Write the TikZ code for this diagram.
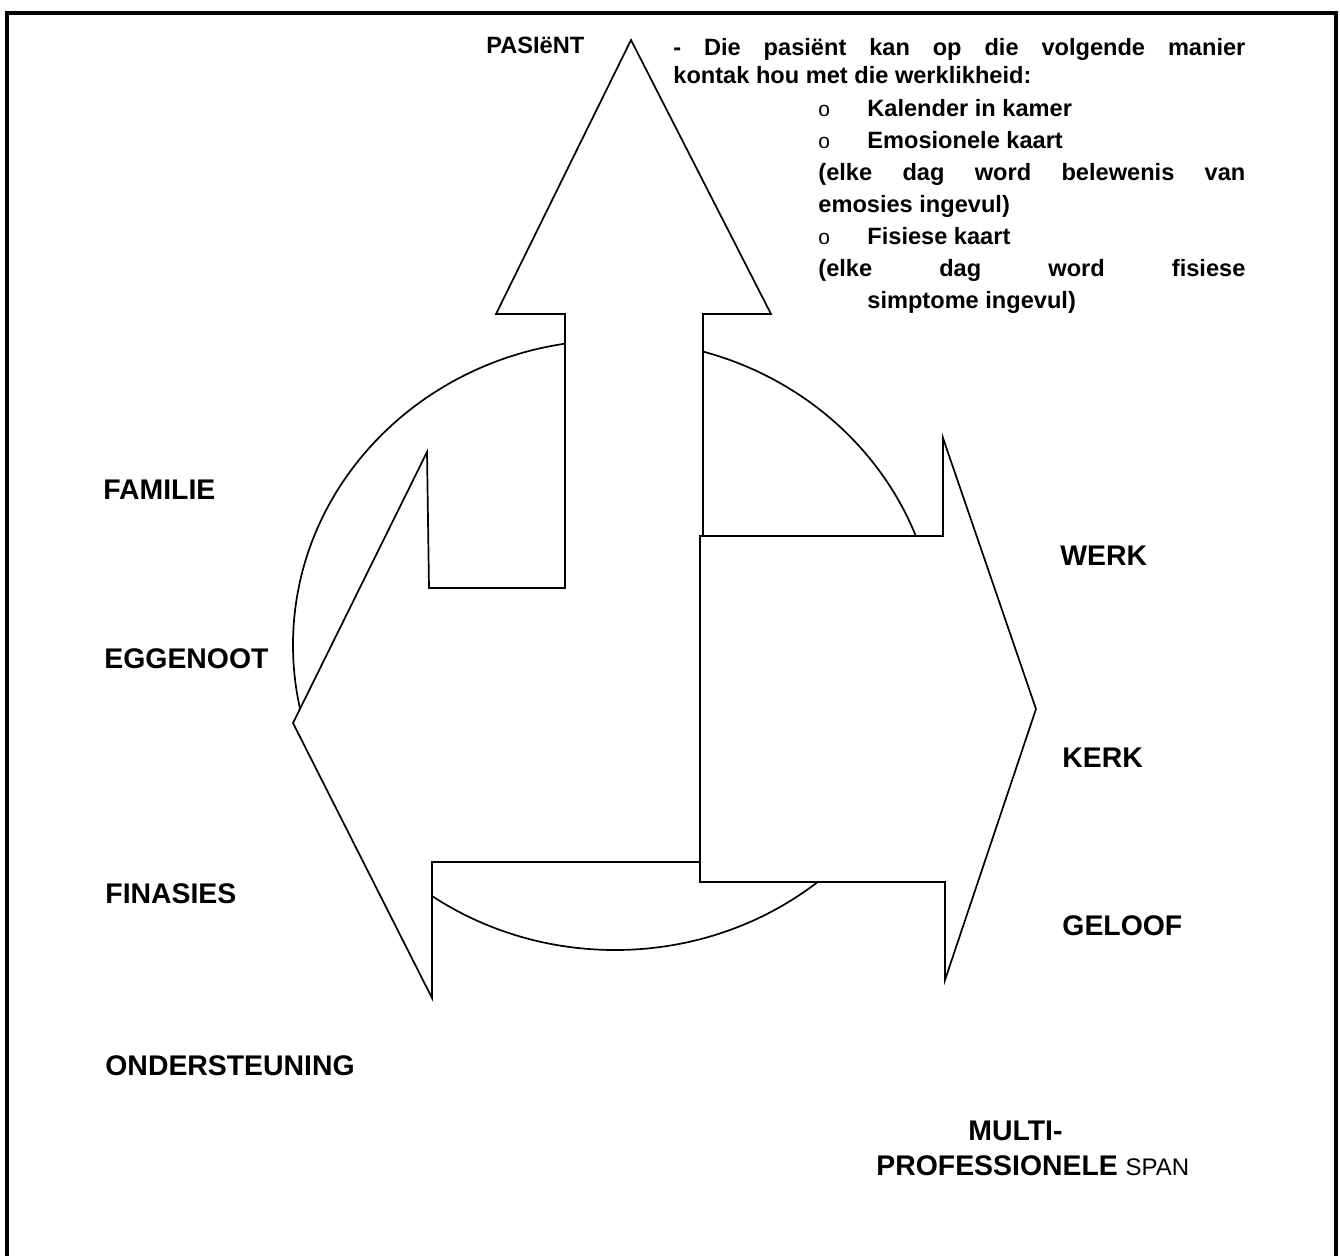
\documentclass[tikz,border=0pt]{standalone}
\usepackage{fontspec}
\setmainfont{Liberation Sans}
\begin{document}
\begin{tikzpicture}[x=0.5pt,y=-0.5pt,
  arrowshape/.style={draw=black, fill=white, line width=0.85pt, line join=miter},
  lab/.style={font=\bfseries\fontsize{14.2pt}{17pt}\selectfont, anchor=base west, inner sep=0pt},
  txt/.style={font=\bfseries\fontsize{11.8pt}{14pt}\selectfont, anchor=base west, inner sep=0pt},
  bul/.style={font=\fontsize{10.5pt}{13pt}\selectfont, anchor=base west, inner sep=0pt}]
\useasboundingbox (0,0) rectangle (1340,1255);
\fill[white] (0,0) rectangle (1340,1255);
% frame (open at the bottom)
\draw[line width=2.2pt] (7,1262) -- (7,13) -- (1336,13) -- (1336,1262);
% ellipse behind
\draw[line width=0.85pt] (615,645) ellipse [x radius=161pt, y radius=152.5pt];
% up-left arrow
\draw[arrowshape] (631,40) -- (771,314) -- (703,314) -- (703,862) -- (432,862)
  -- (432,998) -- (293,723) -- (427,452) -- (429,588) -- (565,588)
  -- (565,314) -- (496,314) -- cycle;
% right arrow
\draw[arrowshape] (700,536) -- (943,536) -- (943,438) -- (1036,709)
  -- (945,980) -- (945,882) -- (700,882) -- cycle;
% top text
\node[txt] (pas) at (486,53) {PASIëNT};
\node[txt] (l1) at (673,55) {\makebox[286pt][s]{- Die pasiënt kan op die volgende manier}};
\node[txt] (l2) at (673,83) {kontak hou met die werklikheid:};
\node[bul] (b1) at (818,116) {o};
\node[txt] (l3) at (867,116) {Kalender in kamer};
\node[bul] (b2) at (818,148) {o};
\node[txt] (l4) at (867,148) {Emosionele kaart};
\node[txt] (l5) at (818,180) {\makebox[213.5pt][s]{(elke dag word belewenis van}};
\node[txt] (l6) at (818,212) {emosies ingevul)};
\node[bul] (b3) at (818,244) {o};
\node[txt] (l7) at (867,244) {Fisiese kaart};
\node[txt] (l8) at (818,276) {\makebox[213.5pt][s]{(elke dag word fisiese}};
\node[txt] (l9) at (867,308) {simptome ingevul)};
% side labels
\node[lab] (fam) at (103,499) {FAMILIE};
\node[lab] (egg) at (104,668) {EGGENOOT};
\node[lab] (fin) at (105,903) {FINASIES};
\node[lab] (ond) at (105,1075) {ONDERSTEUNING};
\node[lab] (wer) at (1060,565) {WERK};
\node[lab] (ker) at (1062,767) {KERK};
\node[lab] (gel) at (1062,935) {GELOOF};
\node[lab] (mul) at (968,1140) {MULTI-};
\node[lab] (pro) at (876,1175) {PROFESSIONELE {\mdseries\fontsize{12pt}{14pt}\selectfont SPAN}};
\end{tikzpicture}
\end{document}
